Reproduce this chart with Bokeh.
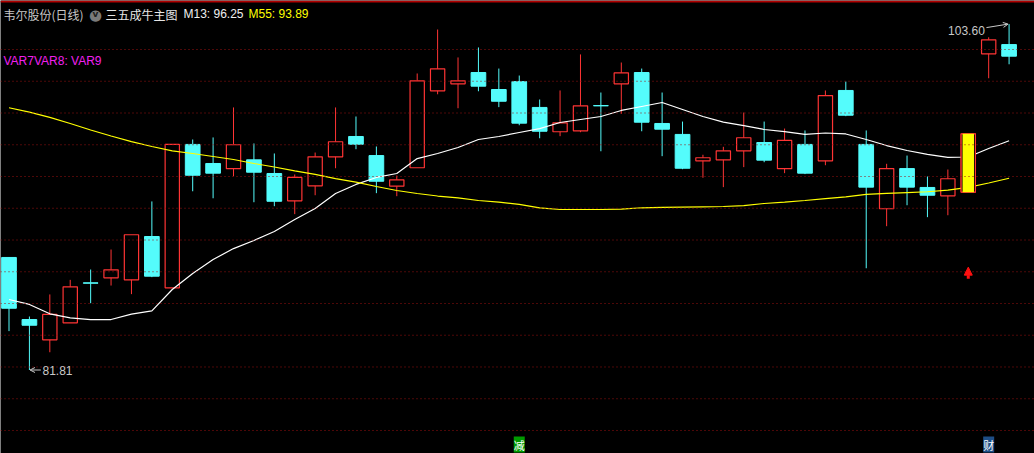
from bokeh.plotting import figure
from bokeh.models import Range1d, Span, Label, Arrow, OpenHead, NormalHead, ColumnDataSource
from bokeh.embed import file_html
from bokeh.resources import INLINE

# ---- daily bars ----
opens = [88.90, 84.99, 83.71, 84.78, 87.30, 87.62, 87.49, 90.22, 86.99, 96.02,
         94.82, 94.49, 95.05, 94.19, 92.47, 93.41, 95.24, 96.52, 95.32, 93.39,
         94.55, 99.40, 99.84, 100.55, 99.48, 99.98, 98.35, 96.82, 96.88, 98.47,
         99.84, 100.55, 97.34, 96.65, 94.99, 95.05, 95.62, 96.14, 94.49, 96.02,
         94.99, 99.42, 96.02, 91.97, 94.50, 93.31, 92.78, 93.01, 101.73, 102.31]
highs = [88.90, 85.18, 86.57, 87.49, 88.14, 89.40, 90.33, 92.43, 96.02, 96.33,
         96.46, 98.35, 96.08, 95.45, 94.13, 95.51, 98.35, 97.78, 95.89, 94.06,
         100.49, 103.26, 101.50, 102.13, 100.80, 100.36, 98.85, 99.42, 101.69, 99.29,
         101.18, 100.80, 99.29, 97.46, 95.37, 95.87, 98.03, 97.46, 97.02, 96.90,
         99.42, 99.98, 96.90, 94.80, 95.32, 94.00, 94.44, 96.69, 102.77, 103.60]
lows = [84.26, 81.81, 82.93, 84.78, 86.02, 87.13, 86.59, 87.66, 86.99, 93.07,
        92.63, 94.02, 92.38, 92.13, 91.63, 92.82, 94.52, 95.72, 92.95, 92.76,
        94.55, 99.18, 98.30, 99.37, 98.37, 97.23, 96.41, 96.54, 96.79, 95.59,
        97.95, 96.85, 95.28, 94.46, 93.92, 93.33, 94.59, 94.90, 94.21, 94.15,
        94.71, 97.80, 88.22, 90.87, 92.19, 91.44, 91.56, 93.01, 100.19, 101.07]
closes = [85.70, 84.63, 85.31, 87.05, 87.28, 88.12, 90.33, 87.72, 96.02, 94.08,
          94.21, 96.00, 94.27, 92.44, 93.94, 95.24, 96.19, 96.03, 93.70, 93.79,
          100.03, 100.78, 100.03, 99.69, 98.74, 97.36, 96.85, 97.38, 98.45, 98.45,
          100.53, 97.42, 96.98, 94.52, 95.18, 95.62, 96.44, 95.03, 96.27, 94.21,
          99.10, 97.86, 93.33, 94.50, 93.33, 92.82, 93.86, 96.69, 102.61, 101.58]

# ---- moving averages ----
m13 = [86.25, 85.94, 85.35, 85.10, 84.99, 84.99, 85.33, 85.54, 86.88, 87.89,
       88.77, 89.46, 89.97, 90.54, 91.29, 91.98, 92.93, 93.50, 93.94, 94.19,
       95.13, 95.45, 95.83, 96.33, 96.52, 96.77, 97.02, 97.40, 97.59, 97.78,
       98.16, 98.41, 98.66, 98.22, 97.78, 97.43, 97.21, 96.96, 96.83, 96.65,
       96.74, 96.68, 96.33, 95.95, 95.64, 95.39, 95.20, 95.23, 95.76, 96.25]
m55 = [98.33, 98.06, 97.72, 97.34, 96.93, 96.55, 96.20, 95.89, 95.61, 95.45,
       95.26, 95.07, 94.82, 94.60, 94.35, 94.13, 93.87, 93.65, 93.37, 93.12,
       92.93, 92.77, 92.65, 92.49, 92.39, 92.24, 92.02, 91.92, 91.92, 91.92,
       91.95, 92.03, 92.05, 92.07, 92.09, 92.11, 92.17, 92.30, 92.39, 92.49,
       92.61, 92.72, 92.87, 92.94, 92.99, 93.04, 93.14, 93.31, 93.59, 93.89]

# ---- price grid, signals and tags ----
grid_levels = [78, 80, 82, 84, 86, 88, 90, 92, 94, 96, 98, 100, 102]
signal_bars = [47]
tag_bars = [25, 48]
tag_texts = ["减", "财"]

RED = "#FF3434"
CYAN = "#54FCFC"
GRID = "#9A1010"

n = len(opens)
xs = list(range(n))

p = figure(width=1034, height=453,
           x_range=Range1d(-0.4165, 50.245), y_range=Range1d(76.551, 105.087),
           output_backend="svg", toolbar_location=None,
           x_axis_location=None, y_axis_location=None,
           background_fill_color="black", border_fill_color="black",
           outline_line_color=None, min_border=0)
p.grid.visible = False

# dotted price grid
for lv in grid_levels:
    p.add_layout(Span(location=lv, dimension="width", line_color=GRID,
                      line_width=1, line_dash="1 3"))
p.add_layout(Span(location=105.03, dimension="width", line_color="#B00000", line_width=2))

up = [i for i in xs if closes[i] > opens[i]]
dn = [i for i in xs if closes[i] <= opens[i]]

# falling bars: full wick behind a filled body
src_dn = ColumnDataSource(dict(
    x=dn, hi=[highs[i] for i in dn], lo=[lows[i] for i in dn],
    top=[opens[i] for i in dn], bot=[closes[i] for i in dn]))
p.segment(x0="x", y0="hi", x1="x", y1="lo", source=src_dn, line_color=CYAN, line_width=1)
p.vbar(x="x", top="top", bottom="bot", width=0.72, source=src_dn,
       fill_color=CYAN, line_color=CYAN, line_width=1)

# rising bars: hollow body, wicks stop at the body
src_up = ColumnDataSource(dict(
    x=up, hi=[highs[i] for i in up], lo=[lows[i] for i in up],
    top=[closes[i] for i in up], bot=[opens[i] for i in up]))
p.segment(x0="x", y0="hi", x1="x", y1="top", source=src_up, line_color=RED, line_width=1)
p.segment(x0="x", y0="bot", x1="x", y1="lo", source=src_up, line_color=RED, line_width=1)
p.vbar(x="x", top="top", bottom="bot", width=0.70, source=src_up,
       fill_color=None, line_color=RED, line_width=1.2)

# moving averages
p.line(xs, m13, line_color="white", line_width=1.2)
p.line(xs, m55, line_color="#FFFF00", line_width=1.2)

# highlighted signal bars
sig_src = ColumnDataSource(dict(
    x=signal_bars, top=[closes[i] for i in signal_bars], bot=[opens[i] for i in signal_bars]))
p.vbar(x="x", top="top", bottom="bot", width=0.70, source=sig_src,
       fill_color="black", line_color=RED, line_width=1.2)
p.vbar(x="x", top="top", bottom="bot", width=0.56, source=sig_src,
       fill_color="#FFFF00", line_color=None)
for i in signal_bars:
    lo = min(opens[i], closes[i], lows[i])
    p.add_layout(Arrow(x_start=i, y_start=lo - 5.45, x_end=i, y_end=lo - 4.72,
                       line_color="#FF1010", line_width=3,
                       end=NormalHead(size=8, fill_color="#FF1010", line_color="#FF1010")))

# extreme price markers
LABEL_GRAY = "#C8C8C8"
i_lo = min(xs, key=lambda i: lows[i])
i_hi = max(xs, key=lambda i: highs[i])
p.add_layout(Arrow(x_start=i_lo + 0.56, y_start=lows[i_lo], x_end=i_lo + 0.03, y_end=lows[i_lo],
                   line_color=LABEL_GRAY, line_width=1,
                   end=OpenHead(size=5, line_color=LABEL_GRAY, line_width=1)))
p.add_layout(Label(x=i_lo + 0.64, y=lows[i_lo], text=f"{lows[i_lo]:.2f}",
                   text_font="Liberation Sans", text_font_size="12px",
                   text_color=LABEL_GRAY, text_baseline="middle", text_align="left"))
p.add_layout(Label(x=i_hi - 1.19, y=highs[i_hi] - 0.40, text=f"{highs[i_hi]:.2f}",
                   text_font="Liberation Sans", text_font_size="12px",
                   text_color=LABEL_GRAY, text_baseline="middle", text_align="right"))
p.add_layout(Arrow(x_start=i_hi - 1.11, y_start=highs[i_hi] - 0.22, x_end=i_hi - 0.05, y_end=highs[i_hi],
                   line_color=LABEL_GRAY, line_width=1,
                   end=OpenHead(size=5, line_color=LABEL_GRAY, line_width=1)))

# bottom event tags
tag_bg = {"减": "#009A00", "财": "#1E4E86"}
for i, t in zip(tag_bars, tag_texts):
    p.add_layout(Label(x=i, y=1, y_units="screen", text=t, text_align="center",
                       text_baseline="bottom", text_font="Noto Sans CJK SC",
                       text_font_size="11px", text_color="white",
                       background_fill_color=tag_bg[t], padding=0))

# header row
H = 453
CJK = "Noto Sans CJK SC"
p.add_layout(Label(x=3, y=H - 13.5, x_units="screen", y_units="screen", text="韦尔股份(日线)",
                   text_font=CJK, text_font_size="12px", text_color="#C8C8C8", text_baseline="middle"))
p.add_layout(Label(x=95, y=H - 14, x_units="screen", y_units="screen", text="●",
                   text_font="DejaVu Sans", text_font_size="15px", text_color="#7A7A7A",
                   text_baseline="middle", text_align="center"))
p.add_layout(Label(x=95, y=H - 13, x_units="screen", y_units="screen", text="v",
                   text_font="DejaVu Sans", text_font_size="9px", text_font_style="bold",
                   text_color="#202020", text_baseline="middle", text_align="center"))
p.add_layout(Label(x=105, y=H - 13.5, x_units="screen", y_units="screen", text="三五成牛主图",
                   text_font=CJK, text_font_size="12px", text_color="#E6E6E6", text_baseline="middle"))
p.add_layout(Label(x=183, y=H - 13.5, x_units="screen", y_units="screen", text=f"M13: {m13[-1]:.2f}",
                   text_font="Liberation Sans", text_font_size="12px", text_color="#F0F0F0",
                   text_baseline="middle"))
p.add_layout(Label(x=248, y=H - 13.5, x_units="screen", y_units="screen", text=f"M55: {m55[-1]:.2f}",
                   text_font="Liberation Sans", text_font_size="12px", text_color="#FFFF00",
                   text_baseline="middle"))
p.add_layout(Label(x=3, y=H - 60.5, x_units="screen", y_units="screen", text="VAR7VAR8: VAR9",
                   text_font="Liberation Sans", text_font_size="12px", text_color="#F020F0",
                   text_baseline="middle"))

open("out.html", "w").write(file_html(p, INLINE))
